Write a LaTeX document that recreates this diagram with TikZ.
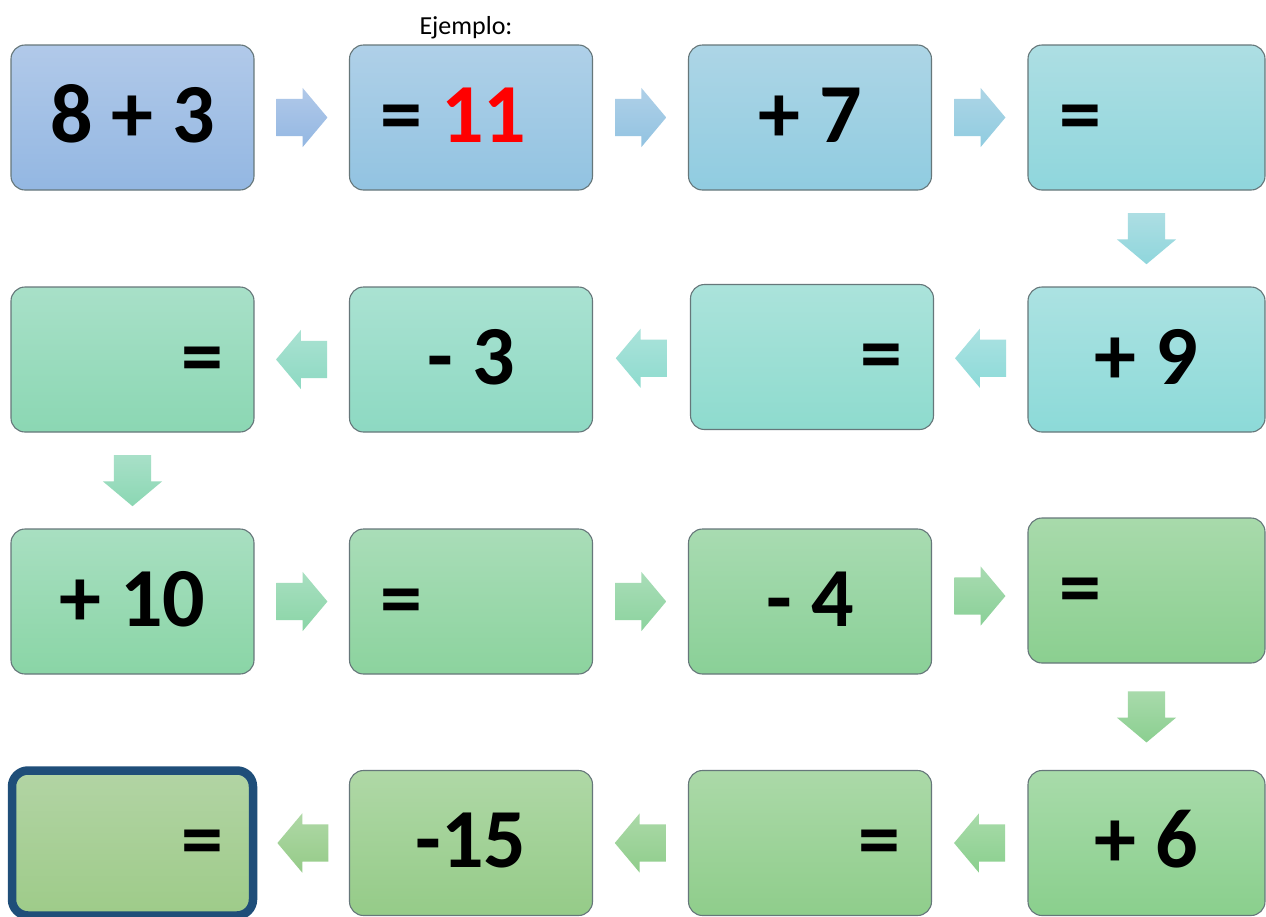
\documentclass[tikz,border=0pt]{standalone}
\usepackage{fontspec}
\setmainfont{Carlito}
\usepackage{tikz}
\usetikzlibrary{shapes.arrows}
\usetikzlibrary{calc}
\definecolor{sqline}{HTML}{66777A}
\definecolor{sqframe}{HTML}{1F4E79}
\definecolor{sqred}{HTML}{FF0000}
% gradient of each square, top / bottom, in reading order
\definecolor{t1}{HTML}{B1C9E9}\definecolor{b1}{HTML}{93B7E2}
\definecolor{t2}{HTML}{AFD0E8}\definecolor{b2}{HTML}{92C3E1}
\definecolor{t3}{HTML}{ADD5E6}\definecolor{b3}{HTML}{90CCE0}
\definecolor{t4}{HTML}{ADDEE3}\definecolor{b4}{HTML}{8FD6DC}
\definecolor{t5}{HTML}{ACE2E2}\definecolor{b5}{HTML}{8CDAD8}
\definecolor{t6}{HTML}{ABE3DB}\definecolor{b6}{HTML}{8EDBCE}
\definecolor{t7}{HTML}{AAE2D2}\definecolor{b7}{HTML}{8DD9C2}
\definecolor{t8}{HTML}{A8E0C8}\definecolor{b8}{HTML}{8BD7B3}
\definecolor{t9}{HTML}{A8DFC1}\definecolor{b9}{HTML}{8AD5A6}
\definecolor{t10}{HTML}{A9DDB8}\definecolor{b10}{HTML}{8CD39E}
\definecolor{t11}{HTML}{A8DBB1}\definecolor{b11}{HTML}{8AD097}
\definecolor{t12}{HTML}{A8DAAB}\definecolor{b12}{HTML}{8BCF90}
\definecolor{t13}{HTML}{A8DBAA}\definecolor{b13}{HTML}{8ACF8D}
\definecolor{t14}{HTML}{ABD9A8}\definecolor{b14}{HTML}{8FCD8B}
\definecolor{t15}{HTML}{AFD8A6}\definecolor{b15}{HTML}{95CB88}
\definecolor{t16}{HTML}{B2D4A4}\definecolor{b16}{HTML}{9ECB89}

\begin{document}
\begin{tikzpicture}[
    x=1pt, y=-1pt,
    square/.style={draw=sqline, line width=1.1pt, rounded corners=14pt,
                   top color=t#1, bottom color=b#1, shading angle=0,
                   minimum height=145pt, inner xsep=31pt, text width=181pt,
                   text height=53pt, text depth=4pt,
                   font=\fontsize{84}{84}\selectfont\bfseries},
    narrow/.style={text width=175pt},
    sarrow/.style={single arrow, draw=none, anchor=tail,
                   minimum height=51pt, minimum width=59pt,
                   single arrow head extend=11pt, single arrow tip angle=100,
                   top color=t#1, bottom color=b#1},
    across/.style={inner xsep=0pt, inner ysep=18.5pt},
    down/.style={shape border rotate=270, inner xsep=18.5pt, inner ysep=0pt},
    lbl/.style={font=\fontsize{26}{26}\selectfont},
  ]
  \path[use as bounding box, fill=white] (0,0) rectangle (1266,916);

  % ---- row 1 ----
  \node[square=1, align=flush center] (s1) at (132.5,117.5) {8 + 3};
  \node[square=2, align=flush left] (s2) at (471,117.5) {= \textcolor{sqred}{11}};
  \node[square=3, align=flush center] (s3) at (810,117.5) {+ 7};
  \node[square=4, narrow, align=flush left] (s4) at (1146.5,117.5) {=};
  \node[lbl, anchor=base] (ejemplo) at (466,34) {Ejemplo:};

  % ---- row 2 ----
  \node[square=5, narrow, align=flush center] (s5) at (1146.5,359.5) {+ 9};
  \node[square=6, align=flush right] (s6) at (812,357) {=};
  \node[square=7, align=flush center] (s7) at (471,359.5) {- 3};
  \node[square=8, align=flush right] (s8) at (132.5,359.5) {=};

  % ---- row 3 ----
  \node[square=9, align=flush center] (s9) at (132.5,601.5) {+ 10};
  \node[square=10, align=flush left] (s10) at (471,601.5) {=};
  \node[square=11, align=flush center] (s11) at (810,601.5) {- 4};
  \node[square=12, narrow, align=flush left] (s12) at (1146.5,590.5) {=};

  % ---- row 4 ----
  \node[square=13, narrow, align=flush center] (s13) at (1146.5,843) {+ 6};
  \node[square=14, align=flush right] (s14) at (810,843) {=};
  \node[square=15, align=flush center] (s15) at (471,843) {-15};
  \node[square=16, draw=sqframe, line width=8.5pt, rounded corners=16pt,
        minimum width=241pt, inner xsep=29pt, align=flush right] (s16) at (132.5,843) {=};

  % block arrows between the squares (tail half a length before the gap's middle)
  \foreach \a/\b/\n in {s1/s2/1, s2/s3/2, s3/s4/3, s9/s10/9, s10/s11/10, s11/s12/11}
    \node[sarrow=\n, across] (a\n) at ($(\a.east)!0.5!(\b.west)+(-25.5,0)$) {};
  \foreach \a/\b/\n in {s5/s6/5, s6/s7/6, s7/s8/7, s13/s14/13, s14/s15/14, s15/s16/15}
    \node[sarrow=\n, across, shape border rotate=180] (a\n) at ($(\a.west)!0.5!(\b.east)+(25.5,0)$) {};
  \foreach \a/\b/\n in {s4/s5/4, s8/s9/8, s12/s13/12}
    \node[sarrow=\n, down] (a\n) at ($(\a.south)!0.5!(\b.north)+(0,-25.5)$) {};
\end{tikzpicture}
\end{document}
